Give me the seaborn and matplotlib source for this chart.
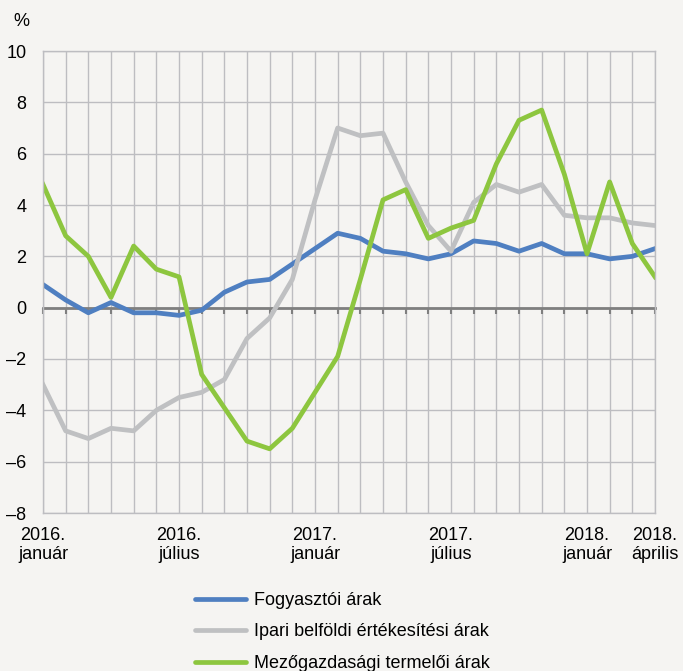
import matplotlib

matplotlib.use("Agg")
import matplotlib.pyplot as plt
import numpy as np
import pandas as pd
import seaborn as sns

# --- Data (monthly, 2016 January .. 2018 April) --------------------------- #
months = pd.period_range("2016-01", "2018-04", freq="M").astype(str).tolist()

fogyasztoi = [0.9, 0.3, -0.2, 0.2, -0.2, -0.2, -0.3, -0.1, 0.6, 1.0, 1.1, 1.7,
              2.3, 2.9, 2.7, 2.2, 2.1, 1.9, 2.1, 2.6, 2.5, 2.2, 2.5, 2.1,
              2.1, 1.9, 2.0, 2.3]
ipari = [-3.0, -4.8, -5.1, -4.7, -4.8, -4.0, -3.5, -3.3, -2.8, -1.2, -0.4, 1.1,
         4.2, 7.0, 6.7, 6.8, 4.9, 3.2, 2.2, 4.1, 4.8, 4.5, 4.8, 3.6,
         3.5, 3.5, 3.3, 3.2]
mezogazdasagi = [4.8, 2.8, 2.0, 0.4, 2.4, 1.5, 1.2, -2.6, -3.9, -5.2, -5.5, -4.7,
                 -3.3, -1.9, 1.1, 4.2, 4.6, 2.7, 3.1, 3.4, 5.6, 7.3, 7.7, 5.2,
                 2.1, 4.9, 2.5, 1.2]

series_names = ["Fogyasztói árak",
                "Ipari belföldi értékesítési árak",
                "Mezőgazdasági termelői árak"]
colors = ["#4f7fc1", "#bfc0c2", "#8dc63f"]

label_pos = [0, 6, 12, 18, 24, 27]
label_text = ["2016.\njanuár", "2016.\njúlius", "2017.\njanuár",
              "2017.\njúlius", "2018.\njanuár", "2018.\náprilis"]
y_ticks = list(range(-8, 11, 2))

df = pd.DataFrame({
    "idx": np.tile(np.arange(len(months)), 3),
    "value": fogyasztoi + ipari + mezogazdasagi,
    "series": np.repeat(series_names, len(months)),
})

# --- Plot ------------------------------------------------------------------ #
bg = "#f5f4f2"
grid_c = "#bdbdc1"
fs = 13
plt.rcParams["font.family"] = ["Liberation Sans", "DejaVu Sans"]
plt.rcParams["font.size"] = fs

fig = plt.figure(figsize=(6.83, 6.71), dpi=100, facecolor=bg)
ax = fig.add_axes([43 / 683, 1 - 513 / 671, 612 / 683, 462 / 671], facecolor=bg)

sns.lineplot(data=df, x="idx", y="value", hue="series", hue_order=series_names,
             palette=colors, linewidth=3.4, ax=ax, legend=False)

ax.set_xlim(0, len(months) - 1)
ax.set_ylim(-8, 10)
ax.set_xlabel("")
ax.set_ylabel("")

# grid
ax.set_yticks(y_ticks)
ax.set_yticklabels([str(t).replace("-", "–") for t in y_ticks])
ax.tick_params(axis="y", length=0, pad=12, labelsize=fs)
ax.set_xticks(range(len(months)))
ax.set_xticks(label_pos, minor=True)
ax.grid(True, which="major", color=grid_c, linewidth=1)
ax.set_axisbelow(True)

for side in ["left", "right", "top"]:
    ax.spines[side].set_color(grid_c)
    ax.spines[side].set_linewidth(1)

# zero line with month ticks
ax.spines["bottom"].set_position(("data", 0))
ax.spines["bottom"].set_color("#7f7f7f")
ax.spines["bottom"].set_linewidth(2)
ax.spines["bottom"].set_zorder(1.5)
ax.tick_params(axis="x", which="major", direction="out", length=4, width=1.5,
               color="#7f7f7f", labelbottom=False)
ax.tick_params(axis="x", which="minor", direction="out", length=9, width=1.5,
               color="#7f7f7f", labelbottom=False)

# date labels below the plot
sec = ax.secondary_xaxis("bottom")
sec.set_xticks(label_pos)
sec.set_xticklabels(label_text, linespacing=1.15)
sec.tick_params(length=0, pad=10, labelsize=fs)
sec.spines["bottom"].set_color(grid_c)
sec.spines["bottom"].set_linewidth(1)

fig.text(13 / 683, 1 - 22 / 671, "%", fontsize=fs, ha="left", va="center")

# legend
handles = [plt.Line2D([], [], color=c, linewidth=3.4, solid_capstyle="round") for c in colors]
fig.legend(handles, series_names, loc="upper left", bbox_to_anchor=(195 / 683, 1 - 592 / 671),
           frameon=False, fontsize=fs, handlelength=2.8, handletextpad=0.45,
           labelspacing=0.8, borderpad=0, borderaxespad=0)

fig.savefig("out.png", dpi=100, facecolor=bg)
